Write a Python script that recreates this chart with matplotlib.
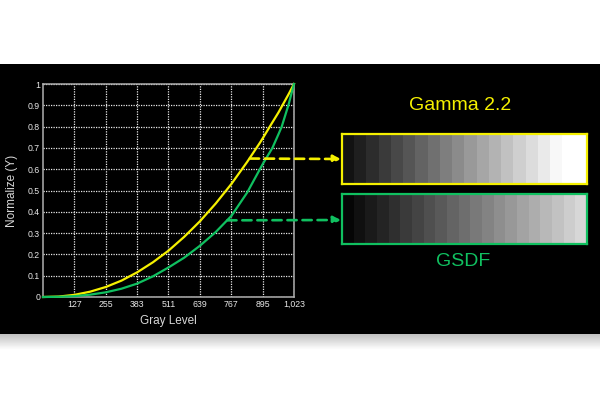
import numpy as np
import matplotlib.pyplot as plt

plt.rcParams['font.family'] = ['Liberation Sans', 'DejaVu Sans']

# gray level samples and the two curves
gray = [0, 64, 128, 192, 256, 320, 384, 448, 512, 576, 640, 704, 768, 832,
        884, 896, 935, 960, 973, 1000, 1023]
gamma22 = [0.0, 0.002, 0.010, 0.025, 0.047, 0.077, 0.116, 0.163, 0.218,
           0.283, 0.356, 0.439, 0.531, 0.634, 0.724, 0.746, 0.820, 0.867,
           0.894, 0.950, 1.0]
gsdf = [0.0, 0.001, 0.004, 0.011, 0.022, 0.039, 0.063, 0.097, 0.139, 0.185,
        0.241, 0.305, 0.381, 0.490, 0.600, 0.625, 0.700, 0.765, 0.800,
        0.900, 1.0]

xticks = [127, 255, 383, 511, 639, 767, 895, 1023]
xticklabels = ['127', '255', '383', '511', '639', '767', '895', '1,023']
yticks = [0, 0.1, 0.2, 0.3, 0.4, 0.5, 0.6, 0.7, 0.8, 0.9, 1]
yticklabels = ['0', '0.1', '0.2', '0.3', '0.4', '0.5', '0.6', '0.7', '0.8', '0.9', '1']

# where the dashed arrows leave each curve
gamma_mark = (843, 0.65)
gsdf_mark = (751, 0.36)

# gray steps of the two bars
gamma_steps = [18, 31, 45, 58, 72, 85, 99, 112, 126, 139, 153, 166, 180, 193,
               207, 220, 234, 248, 255, 255]
gsdf_steps = [5, 16, 26, 37, 47, 58, 68, 79, 89, 100, 110, 121, 131, 142,
              152, 163, 173, 184, 194, 205, 215]

YELLOW = '#f5f000'
GREEN = '#10c060'

fig = plt.figure(figsize=(6, 4), dpi=100)
fig.patch.set_facecolor('white')

# black band with a soft shadow under it
bg = fig.add_axes([0, 0, 1, 1], zorder=-10)
bg.set_xlim(0, 600)
bg.set_ylim(400, 0)
bg.axis('off')
bg.add_patch(plt.Rectangle((0, 64), 600, 270, color='black', lw=0))
shade = np.linspace(0.76, 1.0, 20).reshape(-1, 1)
bg.imshow(shade, cmap='gray', vmin=0, vmax=1, extent=(0, 600, 350, 334),
          aspect='auto', interpolation='bilinear')

# the chart
ax = fig.add_axes([43 / 600, 103 / 400, 251 / 600, 213 / 400])
ax.set_facecolor('black')
ax.plot(gray, gamma22, color=YELLOW, lw=1.6, clip_on=False, zorder=3)
ax.plot(gray, gsdf, color=GREEN, lw=1.6, clip_on=False, zorder=3)
ax.set_xlim(0, 1023)
ax.set_ylim(0, 1)
ax.set_xticks(xticks)
ax.set_xticklabels(xticklabels)
ax.set_yticks(yticks)
ax.set_yticklabels(yticklabels)
ax.tick_params(length=0, pad=2, labelsize=6.3, colors='#e8e8e8')
ax.grid(True, color='#e8e8e8', lw=0.9, ls=(0, (1, 1)))
for s in ax.spines.values():
    s.set_color('#b0b0b0')
    s.set_linewidth(1.1)
ax.set_xlabel('Gray Level', fontsize=8.5, color='#d8d8d8')
ax.set_ylabel('Normalize (Y)', fontsize=8.5, color='#d8d8d8')
ax.xaxis.set_label_coords(0.5, -0.085)
ax.yaxis.set_label_coords(-0.1, 0.5)

# dashed arrows towards the bars
for mark, color, ypx in [(gamma_mark, YELLOW, 241), (gsdf_mark, GREEN, 180)]:
    ax.annotate('', xy=(341, ypx), xycoords='figure pixels',
                xytext=mark, textcoords='data',
                arrowprops=dict(arrowstyle='-|>', color=color, lw=1.9,
                                ls=(0, (3.5, 2.2)), mutation_scale=11,
                                shrinkA=0, shrinkB=0),
                annotation_clip=False, zorder=4)

# the two gray step bars
for steps, color, bottom in [(gamma_steps, YELLOW, 216), (gsdf_steps, GREEN, 156)]:
    bx = fig.add_axes([341.5 / 600, bottom / 400, 245 / 600, 50 / 400])
    bx.imshow(np.array(steps).reshape(1, -1), cmap='gray', vmin=0, vmax=255,
              aspect='auto', interpolation='nearest')
    bx.set_xticks([])
    bx.set_yticks([])
    for s in bx.spines.values():
        s.set_color(color)
        s.set_linewidth(1.6)

fig.text(460 / 600, 1 - 106 / 400, 'Gamma 2.2', color=YELLOW, fontsize=14,
         ha='center', va='center')
fig.text(463 / 600, 1 - 262 / 400, 'GSDF', color=GREEN, fontsize=14,
         ha='center', va='center')

fig.savefig('out.png', dpi=100, facecolor=fig.get_facecolor())
